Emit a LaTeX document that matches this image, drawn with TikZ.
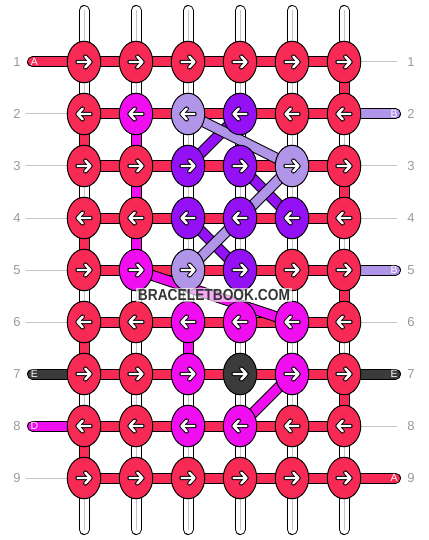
\documentclass[tikz,border=0pt]{standalone}
\usepackage{fontspec}
\setmainfont{Liberation Sans}
\usetikzlibrary{shapes.geometric}
\definecolor{cR}{HTML}{F72A55}
\definecolor{cM}{HTML}{F00DF0}
\definecolor{cL}{HTML}{B195E8}
\definecolor{cP}{HTML}{9511F5}
\definecolor{cK}{HTML}{3B3B3B}
\definecolor{guide}{HTML}{C4C4C4}
\definecolor{numc}{HTML}{9A9A9A}
\newcommand\strand[3]{%
  \draw[line width=11pt,black] (#1)--(#2);
  \draw[line width=9pt,#3] (#1)--(#2);}
\begin{document}
\begin{tikzpicture}[x=1pt,y=-1pt,
  knot/.style={ellipse,draw=black,line width=1pt,minimum width=33.5pt,minimum height=41.5pt,inner sep=0pt},
  arrowblack/.style={black,line width=4.4pt,line cap=round,line join=round},
  arrowwhite/.style={white,line width=2.4pt,line cap=round,line join=round},
  rownum/.style={text=numc,font=\fontsize{13}{13}\selectfont,inner sep=0pt},
  taillabel/.style={text=white,font=\fontsize{10.5}{10.5}\selectfont,inner sep=0pt},
  guideline/.style={guide,line width=1pt},
  wmark/.style={text=cK!90!black,font=\fontsize{16}{16}\selectfont\bfseries,xscale=0.86,
    fill=white,fill opacity=0.65,text opacity=1,inner xsep=2pt,inner ysep=1pt}]
\useasboundingbox (0,0) rectangle (428,540);
\fill[white] (0,0) rectangle (428,540);
% grid points
\foreach \c in {1,...,6}{
  \foreach \r in {1,...,9}{
    \coordinate (p-\r-\c) at ({84+52*(\c-1)},{62+52*(\r-1)});
  }
  \coordinate (wt-\c) at ({84+52*(\c-1)},10.5);
  \coordinate (wb-\c) at ({84+52*(\c-1)},529.5);
}
% warp threads
\foreach \c in {1,...,6}{
  \draw[line width=11pt,black,line cap=round] (wt-\c)--(wb-\c);
  \draw[line width=9pt,white,line cap=round] (wt-\c)--(wb-\c);
  \draw[line width=1pt,guide] (wt-\c)--(wb-\c);
}
% vertical coloured segments
\foreach \a/\b/\c/\col in {1/2/6/cR,2/3/1/cR,3/4/6/cR,4/5/1/cR,5/6/6/cR,6/7/1/cR,7/8/6/cR,8/9/1/cR,
  2/3/2/cM,3/4/2/cM,4/5/2/cM,6/7/3/cM}{
  \strand{p-\a-\c}{p-\b-\c}{\col}
}
% horizontal rows
\foreach \r in {1,...,9}{
  \strand{p-\r-1}{p-\r-6}{cR}
}
% diagonals
\strand{p-3-3}{p-2-4}{cP}
\strand{p-3-4}{p-4-5}{cP}
\strand{p-4-3}{p-5-4}{cP}
\strand{p-2-3}{p-3-5}{cL}
\strand{p-3-5}{p-5-3}{cL}
\strand{p-5-2}{p-6-5}{cM}
\strand{p-7-5}{p-8-4}{cM}
% tails and labels
\foreach \r in {1,...,9}{
  \coordinate (tl-\r) at (32.5,{62+52*(\r-1)});
  \coordinate (tr-\r) at (395.5,{62+52*(\r-1)});
  \coordinate (gl-\r) at (26,{62+52*(\r-1)});
  \coordinate (gr-\r) at (397,{62+52*(\r-1)});
  \node[rownum] (nl-\r) at (17,{62+52*(\r-1)}) {\r};
  \node[rownum] (nr-\r) at (411,{62+52*(\r-1)}) {\r};
}
\foreach \r in {2,3,4,5,6,9}{\draw[guideline] (gl-\r)--(p-\r-1);}
\foreach \r in {1,3,4,6,8}{\draw[guideline] (p-\r-6)--(gr-\r);}
\foreach \r/\col/\t in {1/cR/A,7/cK/E,8/cM/D}{
  \draw[line width=11pt,black,line cap=round] (tl-\r)--(p-\r-1);
  \draw[line width=9pt,\col,line cap=round] (tl-\r)--(p-\r-1);
  \node[taillabel] (ltl-\r) at ([xshift=2pt]tl-\r) {\t};
}
\foreach \r/\col/\t in {2/cL/B,5/cL/B,7/cK/E,9/cR/A}{
  \draw[line width=11pt,black,line cap=round] (p-\r-6)--(tr-\r);
  \draw[line width=9pt,\col,line cap=round] (p-\r-6)--(tr-\r);
  \node[taillabel] (rtl-\r) at ([xshift=-1.5pt]tr-\r) {\t};
}
% knots
\foreach \r/\dir/\cols in {1/1/{cR,cR,cR,cR,cR,cR},2/-1/{cR,cM,cL,cP,cR,cR},3/1/{cR,cR,cP,cP,cL,cR},
  4/-1/{cR,cR,cP,cP,cP,cR},5/1/{cR,cM,cL,cP,cR,cR},6/-1/{cR,cR,cM,cM,cM,cR},
  7/1/{cR,cR,cM,cK,cM,cR},8/-1/{cR,cR,cM,cM,cR,cR},9/1/{cR,cR,cR,cR,cR,cR}}{
  \foreach \col [count=\c] in \cols{
    \node[knot,fill=\col] (k-\r-\c) at (p-\r-\c) {};
    \begin{scope}[shift={(p-\r-\c)},xscale=\dir]
      \draw[arrowblack] (-6.5,0)--(6.5,0) (1.3,-5.4)--(6.5,0)--(1.3,5.4);
      \draw[arrowwhite] (-6.5,0)--(6.5,0) (1.3,-5.4)--(6.5,0)--(1.3,5.4);
    \end{scope}
  }
}
% watermark
\node[wmark] (wm) at (214,295) {BRACELETBOOK.COM};
\end{tikzpicture}
\end{document}
